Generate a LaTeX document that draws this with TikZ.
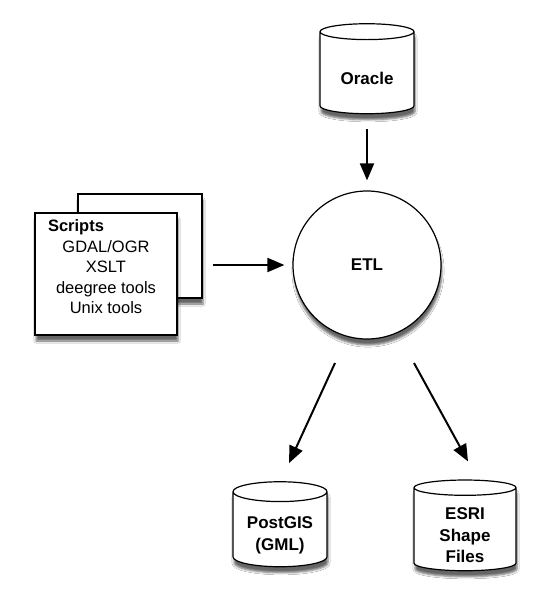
\documentclass[tikz,border=0pt]{standalone}
\usepackage{fontspec}
\setmainfont{Liberation Sans}
\usetikzlibrary{shapes.geometric,arrows.meta,shadows.blur}
\tikzset{
  store/.style={cylinder,shape border rotate=90,aspect=0.3,draw,line width=1.2pt,fill=white,
    minimum width=94,minimum height=90,inner sep=0pt,align=center,font=\fontsize{17}{21.5}\selectfont\bfseries,
    blur shadow={shadow xshift=1pt,shadow yshift=-6pt,shadow opacity=60}},
  sheet/.style={draw,line width=1.2pt,fill=white,
    blur shadow={shadow xshift=1pt,shadow yshift=-6pt,shadow opacity=60}},
}
\begin{document}
\begin{tikzpicture}[x=1pt,y=-1pt,>={Triangle[length=17pt,width=14pt]},line width=2pt,font=\fontsize{16.5}{20.5}\selectfont]
\useasboundingbox[fill=white](0,0)rectangle(550,613);
% sources
\node[store,minimum height=90](oracle)at(367,73){\rule{0pt}{24pt}Oracle};
\node[sheet,minimum width=124,minimum height=104](page)at(140,246){};
\node[sheet,minimum width=142,minimum height=122](scripts)at(106,274){};
\node[anchor=north,inner sep=0pt,yshift=-4pt](scriptstext)at(scripts.north){\begin{tabular}{@{}c@{}}
  \multicolumn{1}{@{}l}{\hspace*{-8pt}\textbf{Scripts}}\\GDAL/OGR\\XSLT\\deegree tools\\Unix tools\end{tabular}};
% etl
\node[circle,draw,line width=1.2pt,fill=white,minimum size=148,font=\fontsize{17}{20.5}\selectfont\bfseries,
  blur shadow={shadow xshift=1pt,shadow yshift=-6pt,shadow opacity=60}](etl)at(367,265){ETL};
% targets
\node[store,minimum height=85](postgis)at(280,529.5){\rule{0pt}{24pt}PostGIS\\(GML)};
\node[store,minimum height=85,minimum width=102](esri)at(465,529.5){\rule{0pt}{24pt}ESRI\\Shape\\Files};
\draw[->,shorten <=15pt,shorten >=10pt](oracle.south)--(etl.north);
\draw[->,shorten <=10pt,shorten >=8pt](page.east|-etl.west)--(etl.west);
\draw[->]([shift={(-32,98)}]etl.center)--([shift={(9,-18)}]postgis.north);
\draw[->]([shift={(47,98)}]etl.center)--([shift={(3,-18)}]esri.north);
\end{tikzpicture}
\end{document}
